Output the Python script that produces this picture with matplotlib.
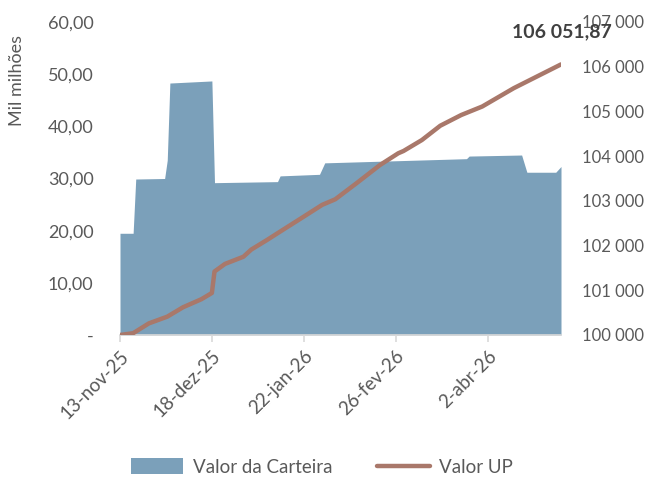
import numpy as np
import pandas as pd
import matplotlib
matplotlib.use("Agg")
import matplotlib.pyplot as plt
from matplotlib.ticker import FuncFormatter

plt.rcParams['font.family'] = ['Lato', 'DejaVu Sans']

# Valor da Carteira (mil milhões)
cart_dates = ['2025-11-13', '2025-11-18', '2025-11-19', '2025-11-30', '2025-12-01',
              '2025-12-02', '2025-12-18', '2025-12-19', '2026-01-12', '2026-01-13',
              '2026-01-28', '2026-01-30', '2026-03-25', '2026-03-26', '2026-04-15',
              '2026-04-17', '2026-04-28', '2026-04-30']
cart_vals = [19.5, 19.5, 29.9, 30.0, 33.5,
             48.3, 48.7, 29.2, 29.4, 30.5,
             30.8, 33.0, 33.8, 34.3, 34.5,
             31.2, 31.2, 32.3]

# Valor UP
up_dates = ['2025-11-13', '2025-11-18', '2025-11-24', '2025-12-01', '2025-12-07',
            '2025-12-14', '2025-12-18', '2025-12-19', '2025-12-23', '2025-12-30',
            '2026-01-02', '2026-01-08', '2026-01-14', '2026-01-21', '2026-01-29',
            '2026-02-03', '2026-02-11', '2026-02-20', '2026-02-27', '2026-03-01',
            '2026-03-08', '2026-03-15', '2026-03-23', '2026-03-31', '2026-04-12',
            '2026-04-30']
up_vals = [100000, 100040, 100260, 100410, 100620,
           100800, 100940, 101420, 101590, 101750,
           101910, 102125, 102350, 102610, 102910,
           103035, 103390, 103800, 104064, 104115,
           104360, 104680, 104920, 105110, 105520,
           106051.87]

tick_dates = ['2025-11-13', '2025-12-18', '2026-01-22', '2026-02-26', '2026-04-02']
tick_labels = ['13-nov-25', '18-dez-25', '22-jan-26', '26-fev-26', '2-abr-26']

cart_x = pd.to_datetime(cart_dates)
up_x = pd.to_datetime(up_dates)

grey = '#595959'
area_col = '#7BA0BA'
line_col = '#A9786A'

fig = plt.figure(figsize=(6.48, 4.8), dpi=100)
ax = fig.add_axes([120/648, 1-335/480, 441/648, 313/480])
ax2 = ax.twinx()

ax.fill_between(cart_x, cart_vals, 0, color=area_col, lw=0, label='Valor da Carteira')
ax2.plot(up_x, up_vals, color=line_col, lw=3.2, solid_capstyle='round', label='Valor UP')

ax.set_xlim(cart_x[0], cart_x[-1])
ax.set_ylim(0, 60)
ax2.set_ylim(100000, 107000)

ax.set_yticks(np.arange(0, 61, 10))
ax.yaxis.set_major_formatter(FuncFormatter(lambda v, p: '-' if v == 0 else ('%.2f' % v).replace('.', ',')))
ax2.set_yticks(np.arange(100000, 107001, 1000))
ax2.yaxis.set_major_formatter(FuncFormatter(lambda v, p: '{:,.0f}'.format(v).replace(',', ' ')))

ax.set_xticks(pd.to_datetime(tick_dates))
ax.set_xticklabels(tick_labels, rotation=45, ha='right', rotation_mode='anchor')

for a in (ax, ax2):
    for s in a.spines.values():
        s.set_visible(False)
ax.spines['bottom'].set_visible(True)
ax.spines['bottom'].set_color('#D9D9D9')
ax.spines['bottom'].set_linewidth(1.2)

ax.tick_params(axis='x', colors='#D9D9D9', length=5, width=1.2, labelcolor=grey, labelsize=13.5, pad=4)
ax.tick_params(axis='y', length=0, labelcolor=grey, labelsize=13, pad=19)
ax2.tick_params(axis='y', length=0, labelcolor=grey, labelsize=12, pad=15)

fig.text(17/648, 1-80/480, 'Mil milhões', rotation=90, ha='center', va='center',
         color=grey, fontsize=13)

ax2.annotate('106 051,87', xy=(up_x[-1], up_vals[-1]), xytext=(562, 480-32),
             textcoords='figure pixels', ha='center', va='center',
             fontsize=14, fontweight='bold', color='#404040')

h1, l1 = ax.get_legend_handles_labels()
h2, l2 = ax2.get_legend_handles_labels()
fig.legend(h1 + h2, l1 + l2, loc='center', bbox_to_anchor=(322/648, 1-467/480),
           ncol=2, frameon=False, fontsize=13.5, labelcolor=grey,
           handlelength=2.8, handleheight=0.9, handletextpad=0.5, columnspacing=2.4)

fig.savefig('out.png', dpi=100)
